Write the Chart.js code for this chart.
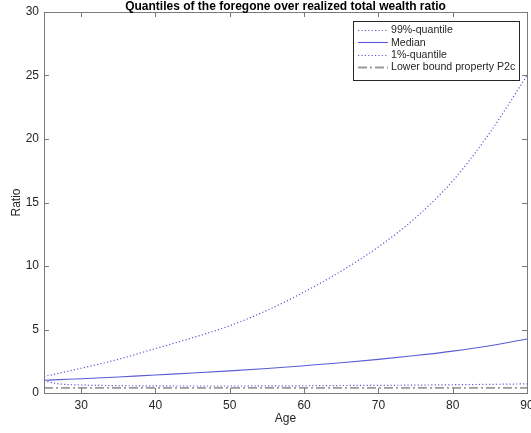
<!DOCTYPE html>
<html>
<head>
<meta charset="utf-8">
<script src="https://cdn.jsdelivr.net/npm/chart.js@4.4.1/dist/chart.umd.min.js"></script>
<style>
  html, body { margin: 0; padding: 0; background: #fff; }
  #wrap { width: 531px; height: 433px; position: relative; }
</style>
</head>
<body>
<div id="wrap"><canvas id="c" width="531" height="433"></canvas></div>
<script>
// Ages (years) at which the ratio quantiles are reported
const ages = [25, 27, 30, 35, 40, 45, 50, 55, 60, 65, 70, 75, 80, 85, 90];
// Foregone / realized total wealth ratio
const q99 = [1.3, 1.55, 1.95, 2.65, 3.5, 4.35, 5.3, 6.5, 7.95, 9.6, 11.5, 13.8, 16.7, 20.5, 25.0];
const median = [1.0, 1.05, 1.12, 1.26, 1.42, 1.57, 1.74, 1.93, 2.15, 2.38, 2.65, 2.95, 3.3, 3.72, 4.25];
const q01 = [0.95, 0.72, 0.63, 0.58, 0.56, 0.55, 0.55, 0.56, 0.57, 0.59, 0.6, 0.62, 0.65, 0.68, 0.72];
const lowerBound = [0.4, 0.4, 0.4, 0.4, 0.4, 0.4, 0.4, 0.4, 0.4, 0.4, 0.4, 0.4, 0.4, 0.4, 0.4];

const seriesNames = ['99%-quantile', 'Median', '1%-quantile', 'Lower bound property P2c'];
const xTicks = [30, 40, 50, 60, 70, 80, 90];
const yTicks = [0, 5, 10, 15, 20, 25, 30];
const titleText = 'Quantiles of the foregone over realized total wealth ratio';
const xTitle = 'Age';
const yTitle = 'Ratio';

const FONT = '"Liberation Sans", Arial, Helvetica, sans-serif';
const AXIS = '#7a7a7a';
const TEXT = '#262626';
const BLUE = '#5b5bd6';
const GRAY = '#9a9a9a';

const pts = ys => ys.map((y, i) => ({ x: ages[i], y }));

const styles = [
  { borderColor: BLUE, borderWidth: 1.2, borderDash: [1.2, 2.2] },
  { borderColor: BLUE, borderWidth: 1.1, borderDash: [] },
  { borderColor: BLUE, borderWidth: 1.2, borderDash: [1.2, 2.2] },
  { borderColor: GRAY, borderWidth: 1.8, borderDash: [9, 3, 2, 3] }
];
const seriesData = [q99, median, q01, lowerBound];

const datasets = seriesData.map((ys, i) => Object.assign({
  label: seriesNames[i],
  data: pts(ys),
  pointRadius: 0,
  fill: false,
  cubicInterpolationMode: 'monotone'
}, styles[i]));

// Box around the axes, inward ticks on all sides, title and legend box
const framePlugin = {
  id: 'frame',
  afterDraw(chart) {
    const { ctx, chartArea: a, scales } = chart;
    ctx.save();
    ctx.strokeStyle = AXIS;
    ctx.lineWidth = 1;
    ctx.strokeRect(Math.round(a.left) + 0.5, Math.round(a.top) + 0.5,
                   Math.round(a.right - a.left), Math.round(a.bottom - a.top));
    const tl = 5;
    ctx.beginPath();
    xTicks.forEach(v => {
      const px = Math.round(scales.x.getPixelForValue(v)) + 0.5;
      ctx.moveTo(px, a.bottom); ctx.lineTo(px, a.bottom - tl);
      ctx.moveTo(px, a.top); ctx.lineTo(px, a.top + tl);
    });
    yTicks.forEach(v => {
      const py = Math.round(scales.y.getPixelForValue(v)) + 0.5;
      ctx.moveTo(a.left, py); ctx.lineTo(a.left + tl, py);
      ctx.moveTo(a.right, py); ctx.lineTo(a.right - tl, py);
    });
    ctx.stroke();

    // title
    ctx.fillStyle = '#000';
    ctx.font = 'bold 12px ' + FONT;
    ctx.textAlign = 'center';
    ctx.textBaseline = 'alphabetic';
    ctx.fillText(titleText, (a.left + a.right) / 2, 9.5);

    // legend
    const lx = 353, ly = 21, lw = 166, lh = 59;
    ctx.fillStyle = '#fff';
    ctx.fillRect(lx, ly, lw, lh);
    ctx.strokeStyle = '#262626';
    ctx.lineWidth = 1;
    ctx.strokeRect(lx + 0.5, ly + 0.5, lw, lh);
    ctx.font = '10.6px ' + FONT;
    ctx.textAlign = 'left';
    ctx.textBaseline = 'middle';
    seriesNames.forEach((name, i) => {
      const y = ly + 9 + i * 12.3;
      const s = styles[i];
      ctx.beginPath();
      ctx.strokeStyle = s.borderColor;
      ctx.lineWidth = s.borderWidth;
      ctx.setLineDash(s.borderDash);
      ctx.moveTo(lx + 5, Math.round(y) + 0.5);
      ctx.lineTo(lx + 35, Math.round(y) + 0.5);
      ctx.stroke();
      ctx.setLineDash([]);
      ctx.fillStyle = TEXT;
      ctx.fillText(name, lx + 38, y + 0.5);
    });
    ctx.restore();
  }
};

new Chart(document.getElementById('c'), {
  type: 'line',
  data: { datasets },
  options: {
    responsive: false,
    animation: false,
    layout: { padding: { top: 12, right: 4, left: 9, bottom: 7 } },
    plugins: {
      legend: { display: false },
      title: { display: false },
      tooltip: { enabled: false }
    },
    scales: {
      x: {
        type: 'linear',
        min: 25, max: 90,
        afterBuildTicks: s => { s.ticks = xTicks.map(v => ({ value: v })); },
        afterFit: s => { s.height = 33; s.paddingLeft = 0; s.paddingRight = 0; },
        grid: { display: false, drawTicks: false },
        border: { display: true, color: AXIS },
        ticks: { color: TEXT, font: { family: FONT, size: 12 }, padding: 5, maxRotation: 0, autoSkip: false },
        title: { display: true, text: xTitle, color: TEXT, font: { family: FONT, size: 12 }, padding: { top: 0, bottom: 0 } }
      },
      y: {
        type: 'linear',
        min: 0, max: 30,
        afterBuildTicks: s => { s.ticks = yTicks.map(v => ({ value: v })); },
        afterFit: s => { s.width = 35; s.paddingTop = 0; s.paddingBottom = 0; },
        grid: { display: false, drawTicks: false },
        border: { display: true, color: AXIS },
        ticks: { color: TEXT, font: { family: FONT, size: 12 }, padding: 5 },
        title: { display: true, text: yTitle, color: TEXT, font: { family: FONT, size: 12 }, padding: { top: 0, bottom: 0 } }
      }
    }
  },
  plugins: [framePlugin]
});
</script>
</body>
</html>
